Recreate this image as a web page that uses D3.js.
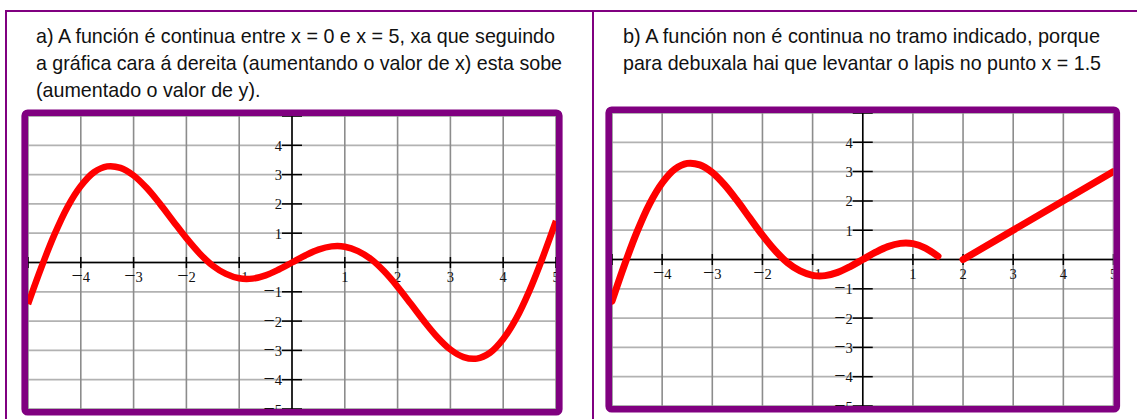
<!DOCTYPE html>
<html>
<head>
<meta charset="utf-8">
<script src="https://cdn.jsdelivr.net/npm/d3@7/dist/d3.min.js"></script>
<style>
  html, body { margin: 0; padding: 0; background: #fff; }
  svg { display: block; }
</style>
</head>
<body>
<svg id="chart" width="1137" height="419"></svg>
<script>
// ---- data ---------------------------------------------------------------
const textA = [
  "a) A función é continua entre x = 0 e x = 5, xa que seguindo",
  "a gráfica cara á dereita (aumentando o valor de x) esta sobe",
  "(aumentado o valor de y)."
];
const textB = [
  "b) A función non é continua no tramo indicado, porque",
  "para debuxala hai que levantar o lapis no punto x = 1.5"
];

const gridValues = [-5, -4, -3, -2, -1, 0, 1, 2, 3, 4, 5];
const tickValues = [-5, -4, -3, -2, -1, 1, 2, 3, 4, 5];
const xTickLabels = [-4, -3, -2, -1, 1, 2, 3, 4, 5];
const yTickLabels = [-5, -4, -3, -2, -1, 1, 2, 3, 4];

// panel a: one continuous curve over [-5, 5]
const curveAX = [-5, -4.75, -4.5, -4.25, -4, -3.75, -3.5, -3.25, -3, -2.75, -2.5,
  -2.25, -2, -1.75, -1.5, -1.25, -1, -0.75, -0.5, -0.25, 0, 0.25, 0.5, 0.75, 1,
  1.25, 1.5, 1.75, 2, 2.25, 2.5, 2.75, 3, 3.25, 3.5, 3.75, 4, 4.25, 4.5, 4.75, 5];
const curveAY = [-1.42, -0.18, 0.95, 1.90, 2.61, 3.08, 3.28, 3.23, 2.97, 2.54, 2.00,
  1.41, 0.83, 0.31, -0.11, -0.39, -0.54, -0.55, -0.44, -0.24, 0, 0.24, 0.44, 0.55, 0.54,
  0.39, 0.11, -0.31, -0.83, -1.41, -2.00, -2.54, -2.97, -3.23, -3.28, -3.08, -2.61,
  -1.90, -0.95, 0.18, 1.42];

// panel b: curve up to x = 1.5, then a straight piece from x = 2 to x = 5
const curveBX = [-5, -4.75, -4.5, -4.25, -4, -3.75, -3.5, -3.25, -3, -2.75, -2.5,
  -2.25, -2, -1.75, -1.5, -1.25, -1, -0.75, -0.5, -0.25, 0, 0.25, 0.5, 0.75, 1,
  1.25, 1.5];
const curveBY = [-1.42, -0.18, 0.95, 1.90, 2.61, 3.08, 3.28, 3.23, 2.97, 2.54, 2.00,
  1.41, 0.83, 0.31, -0.11, -0.39, -0.54, -0.55, -0.44, -0.24, 0, 0.24, 0.44, 0.55, 0.54,
  0.39, 0.11];
const lineBX = [2, 5];
const lineBY = [0, 3];

// ---- layout -------------------------------------------------------------
const PURPLE = "#800080";
const svg = d3.select("#chart");

// outer table rules
svg.append("line").attr("x1", 6).attr("x2", 1137).attr("y1", 11).attr("y2", 11)
  .attr("stroke", PURPLE).attr("stroke-width", 2);
svg.append("line").attr("x1", 6).attr("x2", 6).attr("y1", 10).attr("y2", 419)
  .attr("stroke", PURPLE).attr("stroke-width", 2);
svg.append("line").attr("x1", 593).attr("x2", 593).attr("y1", 10).attr("y2", 419)
  .attr("stroke", PURPLE).attr("stroke-width", 2);

const panels = [
  {
    id: "a",
    plot: { x0: 28, x1: 556, y0: 116, y1: 409 },
    text: { x: 36, lines: textA, widths: [519, 526, null] },
    series: [{ xs: curveAX, ys: curveAY, cap: "butt", width: 6.5 }]
  },
  {
    id: "b",
    plot: { x0: 612, x1: 1113.5, y0: 113, y1: 406 },
    text: { x: 623, lines: textB, widths: [477, 478] },
    series: [
      { xs: curveBX, ys: curveBY, cap: "round", width: 7 },
      { xs: lineBX, ys: lineBY, cap: "round", width: 7 }
    ]
  }
];

const baselines = [43, 70, 97];

function writeLabel(sel, v) {
  if (v < 0) sel.append("tspan").attr("font-size", 20).text("\u2212");
  sel.append("tspan").text(Math.abs(v));
}

panels.forEach(p => {
  // description text, condensed to the column width
  const tg = svg.append("g")
    .attr("font-family", "'Liberation Sans', Arial, sans-serif")
    .attr("font-size", 21).attr("fill", "#111");
  let factor = 1;
  p.text.lines.forEach((s, i) => {
    const t = tg.append("text").attr("x", p.text.x).attr("y", baselines[i]).text(s);
    const natural = t.node().getComputedTextLength();
    const w = p.text.widths[i];
    if (i === 0 && w) factor = w / natural;
    t.attr("textLength", w ? w : natural * factor).attr("lengthAdjust", "spacingAndGlyphs");
  });

  const { x0, x1, y0, y1 } = p.plot;
  const x = d3.scaleLinear().domain([-5, 5]).range([x0, x1]);
  const y = d3.scaleLinear().domain([-5, 5]).range([y1, y0]);

  const clipId = "clip-" + p.id;
  svg.append("clipPath").attr("id", clipId)
    .append("rect").attr("x", x0).attr("y", y0).attr("width", x1 - x0).attr("height", y1 - y0);

  const g = svg.append("g").attr("clip-path", `url(#${clipId})`);
  g.append("rect").attr("x", x0).attr("y", y0).attr("width", x1 - x0).attr("height", y1 - y0)
    .attr("fill", "#fff");

  // grid
  g.selectAll(".gh").data(gridValues).join("line")
    .attr("x1", x0).attr("x2", x1).attr("y1", d => y(d)).attr("y2", d => y(d))
    .attr("stroke", "#b2b2b2").attr("stroke-width", 1.8);
  g.selectAll(".gv").data(gridValues).join("line")
    .attr("y1", y0).attr("y2", y1).attr("x1", d => x(d)).attr("x2", d => x(d))
    .attr("stroke", "#8c8c8c").attr("stroke-width", 1.6);

  // axes through the origin
  g.append("line").attr("x1", x0).attr("x2", x1).attr("y1", y(0)).attr("y2", y(0))
    .attr("stroke", "#000").attr("stroke-width", 1.5);
  g.append("line").attr("x1", x(0)).attr("x2", x(0)).attr("y1", y0).attr("y2", y1)
    .attr("stroke", "#000").attr("stroke-width", 1.5);

  // tick marks
  g.append("g").selectAll("line").data(tickValues).join("line")
    .attr("x1", d => x(d)).attr("x2", d => x(d))
    .attr("y1", y(0) - 5.5).attr("y2", y(0) + 5.5)
    .attr("stroke", "#000").attr("stroke-width", 1.5);
  g.append("g").selectAll("line").data(tickValues).join("line")
    .attr("y1", d => y(d)).attr("y2", d => y(d))
    .attr("x1", x(0) - 10).attr("x2", x(0) + 10)
    .attr("stroke", "#000").attr("stroke-width", 1.5);

  // tick labels
  const lab = g.append("g").attr("font-family", "'Liberation Serif', 'Times New Roman', serif")
    .attr("font-size", 14.5).attr("fill", "#111");
  lab.selectAll(".xl").data(xTickLabels).join("text")
    .attr("x", d => x(d)).attr("y", y(0) + 19).attr("text-anchor", "middle")
    .each(function (d) { writeLabel(d3.select(this), d); });
  lab.selectAll(".yl").data(yTickLabels).join("text")
    .attr("x", x(0) - 10).attr("y", d => y(d) + 5.5).attr("text-anchor", "end")
    .each(function (d) { writeLabel(d3.select(this), d); });

  // function graph
  p.series.forEach(s => {
    const pts = s.xs.map((v, i) => [v, s.ys[i]]);
    const line = d3.line().x(d => x(d[0])).y(d => y(d[1]))
      .curve(d3.curveCatmullRom.alpha(0.5));
    g.append("path").attr("d", line(pts))
      .attr("fill", "none").attr("stroke", "#ff0000").attr("stroke-width", s.width)
      .attr("stroke-linecap", s.cap).attr("stroke-linejoin", "round");
  });

  // thick frame round the plot
  const pad = 3.3;
  svg.append("rect")
    .attr("x", x0 - pad).attr("y", y0 - pad)
    .attr("width", x1 - x0 + 2 * pad).attr("height", y1 - y0 + 2 * pad)
    .attr("rx", 3).attr("ry", 3)
    .attr("fill", "none").attr("stroke", PURPLE).attr("stroke-width", 6.6);
});
</script>
</body>
</html>
